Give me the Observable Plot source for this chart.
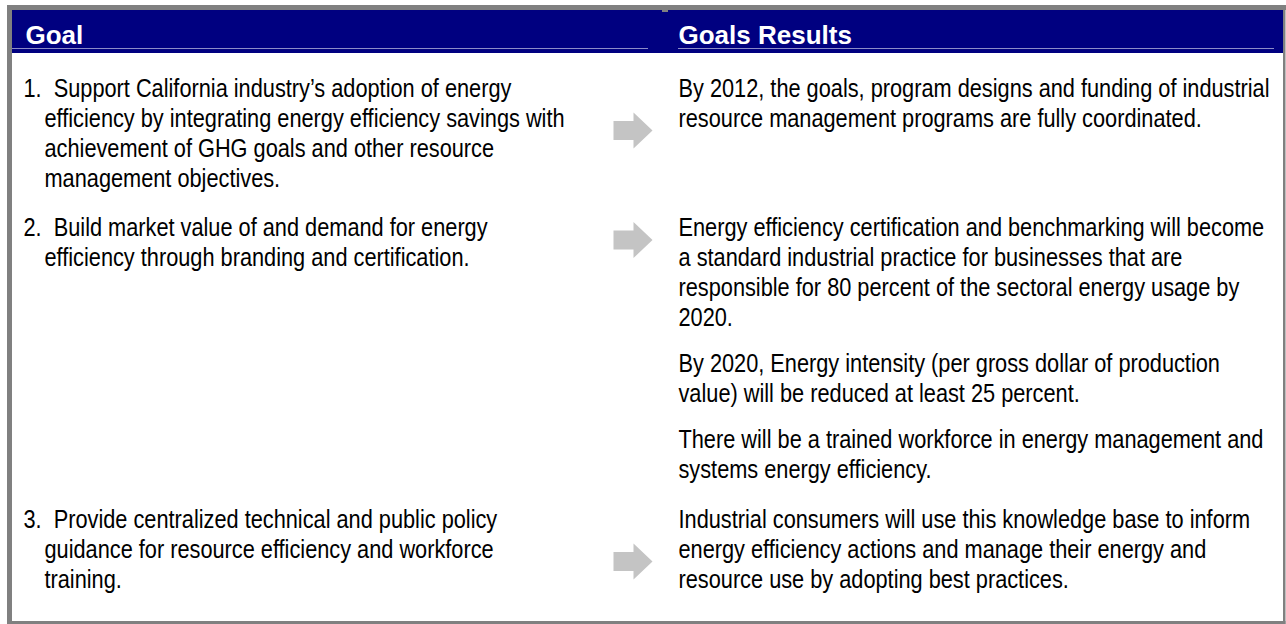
<!DOCTYPE html>
<html>
<head>
<meta charset="utf-8">
<script src="https://cdn.jsdelivr.net/npm/d3@7"></script>
<script src="https://cdn.jsdelivr.net/npm/@observablehq/plot@0.6"></script>
<style>
  html, body { margin: 0; padding: 0; background: #ffffff; }
  #chart svg { display: block; }
</style>
</head>
<body>
<div id="chart"></div>
<script>
// ---- table content ----
const columns = ["Goal", "Goals Results"];

const goalLines = [
  ["1.  Support California industry\u2019s adoption of energy",
   "efficiency by integrating energy efficiency savings with",
   "achievement of GHG goals and other resource",
   "management objectives."],
  ["2.  Build market value of and demand for energy",
   "efficiency through branding and certification."],
  ["3.  Provide centralized technical and public policy",
   "guidance for resource efficiency and workforce",
   "training."]
];

const resultParas = [
  [["By 2012, the goals, program designs and funding of industrial",
    "resource management programs are fully coordinated."]],
  [["Energy efficiency certification and benchmarking will become",
    "a standard industrial practice for businesses that are",
    "responsible for 80 percent of the sectoral energy usage by",
    "2020."],
   ["By 2020, Energy intensity (per gross dollar of production",
    "value) will be reduced at least 25 percent."],
   ["There will be a trained workforce in energy management and",
    "systems energy efficiency."]],
  [["Industrial consumers will use this knowledge base to inform",
    "energy efficiency actions and manage their energy and",
    "resource use by adopting best practices."]]
];

// line of each row beside which the arrow sits
const arrowLine = [1, 0, 1];

// ---- layout ----
const W = 1286, H = 624;
const LINE = 30, PARA = 46, ROWGAP = 49.5, FIRST = 96;
const X_GOAL = 23, X_INDENT = 44, X_RESULT = 678, X_ARROW = 632.5;
const HEADER_BASE = 43;
const colX = [25, 678];
const NARROW = 0.87;

const textRows = [];
const arrows = [];
let yRow = FIRST;
goalLines.forEach((lines, r) => {
  lines.forEach((t, i) => {
    textRows.push({x: i === 0 ? X_GOAL : X_INDENT, y: yRow + i * LINE, text: t.replace(/  /g, "\u00a0 ")});
  });
  const lastGoal = yRow + (lines.length - 1) * LINE;
  let y = yRow, last = yRow;
  resultParas[r].forEach((para, p) => {
    if (p > 0) y = last + PARA;
    para.forEach((t, i) => {
      textRows.push({x: X_RESULT, y: y + i * LINE, text: t});
      last = y + i * LINE;
    });
  });
  arrows.push({x: X_ARROW, y: yRow + arrowLine[r] * LINE + 4});
  yRow = Math.max(last, lastGoal) + ROWGAP;
});

const GRAY = "#808080", NAVY = "#000080";
const panels = [
  {x1: 12, x2: 1283, y1: 10, y2: 53, fill: NAVY},
  {x1: 7, x2: 1286, y1: 5, y2: 10, fill: GRAY},
  {x1: 7, x2: 12, y1: 5, y2: 624, fill: GRAY},
  {x1: 1283, x2: 1285.5, y1: 5, y2: 624, fill: GRAY},
  {x1: 7, x2: 1285.5, y1: 621, y2: 624, fill: GRAY},
  {x1: 662, x2: 668, y1: 10, y2: 12, fill: GRAY}
];
const underlines = [
  {x1: 12, x2: 648, y: 48},
  {x1: 678, x2: 1274, y: 48}
];

// arrow symbol (right-pointing block arrow), r = half height of head
const arrowSymbol = {
  draw(context, size) {
    const u = Math.sqrt(size / Math.PI);
    const s = u * 9.5 / 18, L = -u * 19.5 / 18, M = u * 0.5 / 18, R = u * 19.5 / 18;
    context.moveTo(L, -s);
    context.lineTo(M, -s);
    context.lineTo(M, -u);
    context.lineTo(R, 0);
    context.lineTo(M, u);
    context.lineTo(M, s);
    context.lineTo(L, s);
    context.closePath();
  }
};

const chart = Plot.plot({
  width: W,
  height: H,
  margin: 0,
  x: {domain: [0, W], range: [0, W], axis: null},
  y: {domain: [0, H], range: [0, H], axis: null},
  style: {background: "#ffffff", overflow: "visible"},
  marks: [
    Plot.rect(panels, {x1: "x1", x2: "x2", y1: "y1", y2: "y2", fill: "fill"}),
    Plot.ruleY(underlines, {x1: "x1", x2: "x2", y: "y", stroke: "#8c8cc8", strokeWidth: 1}),
    Plot.text(columns, {
      x: (d, i) => colX[i], y: () => HEADER_BASE, text: d => d,
      textAnchor: "start", lineAnchor: "bottom", fill: "#ffffff",
      fontSize: 26, fontWeight: "bold", fontFamily: "'Liberation Sans', Arial, sans-serif"
    }),
    Plot.text(textRows, {
      x: "x", y: "y", text: "text", textAnchor: "start", lineAnchor: "bottom",
      fill: "#000000", fontSize: 25, fontFamily: "'Liberation Sans', Arial, sans-serif", className: "body-text"
    }),
    Plot.dot(arrows, {x: "x", y: "y", r: 18, symbol: arrowSymbol, fill: "#c4c4c4", stroke: "none"})
  ]
});

// condensed face: horizontally compress each body line about its anchor
chart.querySelectorAll(".body-text text").forEach(t => {
  const tr = t.getAttribute("transform") || "";
  t.setAttribute("transform", tr + ` scale(${NARROW},1)`);
});

document.getElementById("chart").appendChild(chart);
</script>
</body>
</html>
